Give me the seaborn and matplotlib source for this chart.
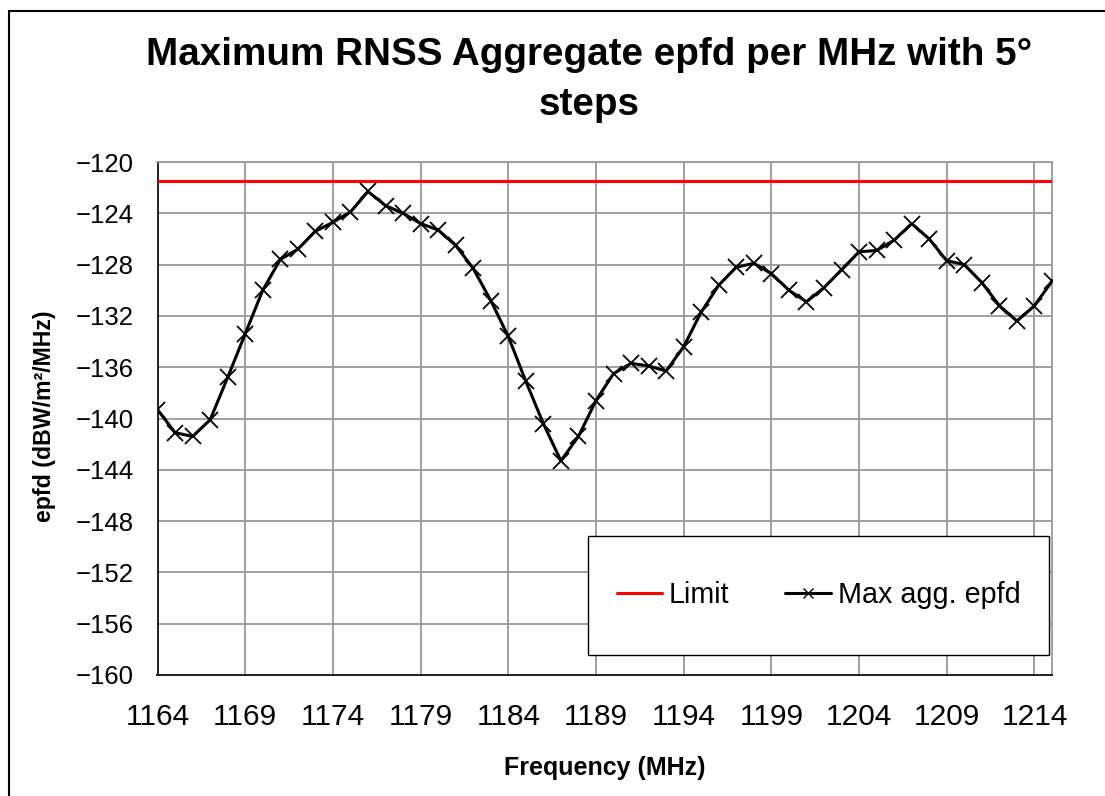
import matplotlib
matplotlib.use("Agg")
import matplotlib.pyplot as plt
from matplotlib.lines import Line2D
from matplotlib.patches import Rectangle
import pandas as pd
import seaborn as sns

# data (1 MHz steps)
freq = list(range(1164, 1216))
epfd = [-139.3, -141.1, -141.4, -140.1, -136.8, -133.4, -130.0, -127.6, -126.8, -125.4,
        -124.7, -123.9, -122.3, -123.4, -124.0, -124.8, -125.3, -126.5, -128.3, -130.8,
        -133.6, -137.1, -140.4, -143.3, -141.4, -138.6, -136.5, -135.7, -135.9, -136.3,
        -134.4, -131.7, -129.6, -128.2, -127.9, -128.7, -130.0, -130.9, -129.8, -128.4,
        -127.0, -126.9, -126.1, -124.8, -126.0, -127.7, -128.0, -129.4, -131.2, -132.4,
        -131.2, -129.3]
limit = -121.5
xticks = list(range(1164, 1215, 5))
yticks = list(range(-160, -119, 4))

df = pd.DataFrame({"freq": freq, "epfd": epfd})

sns.set_style("white")
plt.rcParams["font.family"] = ["Liberation Sans", "DejaVu Sans"]
plt.rcParams["text.color"] = "black"
plt.rcParams["axes.labelcolor"] = "black"
plt.rcParams["xtick.color"] = "black"
plt.rcParams["ytick.color"] = "black"

fig, ax = plt.subplots(figsize=(11.05, 7.96), dpi=100)
fig.subplots_adjust(left=157.5/1105, right=1052/1105, top=1-162/796, bottom=1-675/796)

ax.axhline(limit, color="red", lw=2.2, zorder=3)
sns.lineplot(data=df, x="freq", y="epfd", ax=ax, color="black", lw=2.2,
             marker="x", markersize=11, markeredgewidth=1.3, markeredgecolor="black",
             zorder=4)

ax.set_xlim(1164, 1215)
ax.set_ylim(-160, -120)
ax.set_xticks(xticks)
ax.set_yticks(yticks)
ax.tick_params(axis="x", labelsize=21.5, direction="out", length=6, width=1.2, color="#222222", pad=14)
ax.tick_params(axis="y", labelsize=18.5, direction="out", length=6, width=1.2, color="#222222", pad=11)
ax.grid(True, color="#999999", lw=1.3)
ax.set_axisbelow(True)
for s in ["left", "bottom"]:
    ax.spines[s].set_color("#222222")
    ax.spines[s].set_linewidth(1.4)
for s in ["top", "right"]:
    ax.spines[s].set_color("#999999")
    ax.spines[s].set_linewidth(1.3)

ax.set_xlabel("Frequency (MHz)", fontsize=18, fontweight="bold")
ax.set_ylabel("epfd (dBW/m²/MHz)", fontsize=16.7, fontweight="bold")
ax.xaxis.set_label_coords(0.5, -0.158)
ax.yaxis.set_label_coords(-0.113, 0.505)

fig.text(589/1105, 1-37/796, "Maximum RNSS Aggregate epfd per MHz with 5°\nsteps",
         ha="center", va="top", fontsize=27.8, fontweight="bold", linespacing=1.5)

# legend box
ax.add_patch(Rectangle((0.481, 0.039), 0.516, 0.232, transform=ax.transAxes,
                       facecolor="white", edgecolor="black", lw=1.0, zorder=5))
handles = [Line2D([], [], color="red", lw=2.2),
           Line2D([], [], color="black", lw=2.2, marker="x", markersize=7, markeredgewidth=1.0)]
leg = ax.legend(handles, ["Limit", "Max agg. epfd"], ncol=2, frameon=False,
                loc="center", bbox_to_anchor=(0.739, 0.155), fontsize=20.7,
                handlelength=1.57, handletextpad=0.25, columnspacing=1.95)
leg.set_zorder(6)

# outer chart frame (left and top edges visible)
fig.add_artist(Line2D([9/1105, 9/1105], [0, 1-11/796], transform=fig.transFigure, color="black", lw=1.5))
fig.add_artist(Line2D([9/1105, 1], [1-11/796, 1-11/796], transform=fig.transFigure, color="black", lw=1.5))

fig.savefig("out.png", dpi=100)
